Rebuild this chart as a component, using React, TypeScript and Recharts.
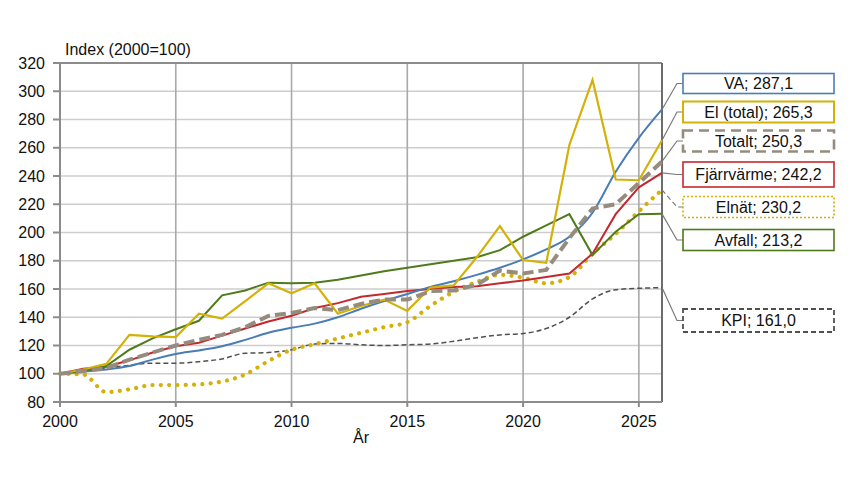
import React from 'react';
import { LineChart, Line, XAxis, YAxis, CartesianGrid, ReferenceLine, Label } from 'recharts';

// Index series, 2000 = 100
const years = [
  2000, 2001, 2002, 2003, 2004, 2005, 2006, 2007, 2008, 2009, 2010, 2011, 2012, 2013,
  2014, 2015, 2016, 2017, 2018, 2019, 2020, 2021, 2022, 2023, 2024, 2025, 2026,
];
const vaValues = [
  100, 101.5, 103, 105.5, 110, 114, 116.5, 119.5, 124, 129, 132.5, 135.5, 140, 146,
  151.5, 156.5, 161.5, 165.5, 170, 175, 181, 188, 197, 214, 243, 267, 287.1,
];
const elTotalValues = [
  100, 103, 107, 127.5, 126.5, 126, 142.5, 139, 151.5, 164, 157, 164, 142.5, 148,
  152.5, 144.5, 161, 162.5, 182.5, 204.5, 180.5, 178.5, 262, 308, 237.5, 237, 265.3,
];
const totaltValues = [
  100, 102, 104, 110, 115, 120, 124, 127.5, 133, 141, 143, 146.5, 145, 149.5,
  152.5, 152.5, 158.5, 159, 163, 173, 171, 173.5, 196, 217, 220, 235, 250.3,
];
const fjarrvarmeValues = [
  100, 103.5, 105, 109.5, 115, 119.5, 122, 127, 132, 137, 141, 146.5, 150, 154.5,
  156.5, 158.5, 160, 161.5, 162, 164, 166, 168.5, 171, 185, 213, 232, 242.2,
];
const elnatValues = [
  100, 99.5, 87, 89, 92, 92, 92.5, 94.5, 99.5, 109, 117, 121, 125, 129,
  133, 136.5, 148, 158, 165, 170, 168, 164, 168.5, 185, 199, 215, 230.2,
];
const avfallValues = [
  100, 102, 105.5, 117, 125, 131.5, 137.5, 155.5, 159, 164.5, 164, 164.5, 166.5, 169.5,
  172.5, 175, 177.5, 180, 182.5, 187.5, 197, 205, 213, 184, 200.5, 213, 213.2,
];
const kpiValues = [
  100, 102.5, 104, 106, 107.5, 107.5, 108.5, 110.5, 114.5, 115, 117, 121, 121.5, 120.5,
  120, 120.5, 121, 123, 125.5, 127.5, 128.5, 132, 140, 153, 159.5, 160.5, 161.0,
];
const xTicks = [2000, 2005, 2010, 2015, 2020, 2025];
const yTicks = [80, 100, 120, 140, 160, 180, 200, 220, 240, 260, 280, 300, 320];

const rows = years.map((year, i) => ({
  year,
  va: vaValues[i],
  el: elTotalValues[i],
  totalt: totaltValues[i],
  fjarr: fjarrvarmeValues[i],
  elnat: elnatValues[i],
  avfall: avfallValues[i],
  kpi: kpiValues[i],
}));

const FONT = '"Liberation Sans", Arial, sans-serif';

type SeriesStyle = {
  key: string;
  name: string;
  color: string;
  width: number;
  dash?: string;
  cap?: 'round' | 'butt';
  curve: 'linear' | 'monotone';
  boxY: number;
  boxH: number;
  boxStroke: string;
  boxWidth: number;
  boxDash?: string;
  leaderDash?: string;
};

// Drawing order: first entries end up underneath
const series: SeriesStyle[] = [
  { key: 'kpi', name: 'KPI', color: '#505050', width: 1.5, dash: '5 3', curve: 'monotone',
    boxY: 320.5, boxH: 23, boxStroke: '#505050', boxWidth: 1.8, boxDash: '5 3' },
  { key: 'elnat', name: 'Elnät', color: '#D4B106', width: 4.2, dash: '0.01 8.3', cap: 'round', curve: 'monotone',
    boxY: 207, boxH: 21, boxStroke: '#D4B106', boxWidth: 1.6, boxDash: '2 2', leaderDash: '5 3' },
  { key: 'fjarr', name: 'Fjärrvärme', color: '#C3282E', width: 2, curve: 'linear',
    boxY: 174.5, boxH: 25, boxStroke: '#C3282E', boxWidth: 1.6 },
  { key: 'va', name: 'VA', color: '#4A7DB5', width: 2, curve: 'monotone',
    boxY: 83.5, boxH: 20, boxStroke: '#4A7DB5', boxWidth: 1.6 },
  { key: 'avfall', name: 'Avfall', color: '#4F7B1B', width: 2, curve: 'linear',
    boxY: 240, boxH: 21, boxStroke: '#4F7B1B', boxWidth: 1.6 },
  { key: 'el', name: 'El (total)', color: '#D4B106', width: 2.2, curve: 'linear',
    boxY: 112, boxH: 21, boxStroke: '#D4B106', boxWidth: 2 },
  { key: 'totalt', name: 'Totalt', color: '#958C7D', width: 4, dash: '11 5', curve: 'linear',
    boxY: 141, boxH: 21, boxStroke: '#958C7D', boxWidth: 2.6, boxDash: '10 6' },
];

const fmt = (v: number) => v.toFixed(1).replace('.', ',');

// Callout box with a leader line, attached to the last point of a series
const endLabel = (s: SeriesStyle) => (props: any) => {
  const { x, y, index, value } = props;
  if (index !== years.length - 1) return null;
  const bx = x + 21;
  const by = s.boxY;
  return (
    <g key={`end-${s.key}`}>
      <polyline
        points={`${x},${y} ${x + 15},${by} ${bx},${by}`}
        fill="none"
        stroke="#7a7a7a"
        strokeWidth={1.2}
        strokeDasharray={s.leaderDash}
      />
      <rect
        x={bx}
        y={by - s.boxH / 2}
        width={151}
        height={s.boxH}
        fill="#ffffff"
        stroke={s.boxStroke}
        strokeWidth={s.boxWidth}
        strokeDasharray={s.boxDash}
      />
      <text
        x={bx + 75.5}
        y={by}
        dy="0.36em"
        textAnchor="middle"
        fontSize={16}
        fontFamily={FONT}
        fill="#111"
      >
        {`${s.name}; ${fmt(Number(value))}`}
      </text>
    </g>
  );
};

export default function App() {
  return (
    <div style={{ position: 'absolute', left: 0, top: 0, width: 850, height: 478, background: '#fff' }}>
      <LineChart
        width={850}
        height={478}
        data={rows}
        margin={{ top: 63, right: 188, bottom: 46, left: 0 }}
        style={{ fontFamily: FONT }}
      >
        <CartesianGrid vertical={false} stroke="#cdcdcd" strokeWidth={1.6} />
        <CartesianGrid horizontal={false} stroke="#a9a9a9" strokeWidth={1.6} />
        <XAxis
          dataKey="year"
          type="number"
          domain={[2000, 2026]}
          ticks={xTicks}
          interval={0}
          allowDecimals={false}
          height={30}
          tickSize={5}
          tickMargin={9}
          stroke="#8c8c8c"
          strokeWidth={2}
          tick={{ fill: '#111', fontSize: 16, fontFamily: FONT }}
        >
          <Label value="År" position="bottom" offset={0} fill="#111" fontSize={16} fontFamily={FONT} />
        </XAxis>
        <YAxis
          type="number"
          domain={[80, 320]}
          ticks={yTicks}
          interval={0}
          width={60}
          tickSize={7}
          tickMargin={8}
          stroke="#8c8c8c"
          strokeWidth={2}
          tick={{ fill: '#111', fontSize: 16, fontFamily: FONT }}
        >
          <Label
            content={(p: any) => (
              <text
                x={p.viewBox.x + 65}
                y={p.viewBox.y - 8}
                fontSize={16}
                fontFamily={FONT}
                fill="#111"
              >
                Index (2000=100)
              </text>
            )}
          />
        </YAxis>
        <ReferenceLine y={320} stroke="#8c8c8c" strokeWidth={2} />
        <ReferenceLine x={2026} stroke="#5a5a5a" strokeWidth={1.6} />
        {series.map((s) => (
          <Line
            key={s.key}
            dataKey={s.key}
            name={s.name}
            type={s.curve}
            stroke={s.color}
            strokeWidth={s.width}
            strokeDasharray={s.dash}
            strokeLinecap={s.cap ?? 'butt'}
            dot={false}
            activeDot={false}
            isAnimationActive={false}
            label={endLabel(s)}
          />
        ))}
      </LineChart>
    </div>
  );
}
